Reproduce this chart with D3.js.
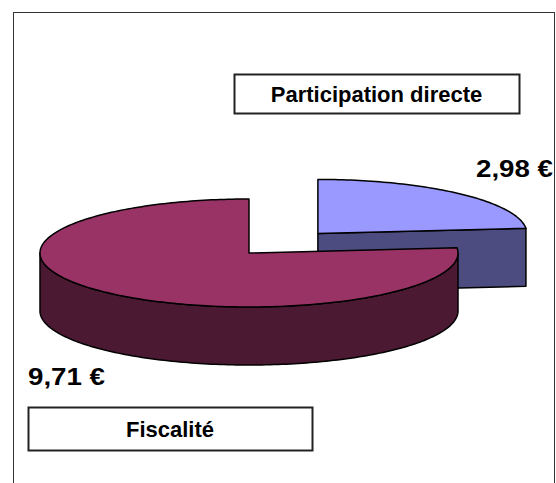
<!DOCTYPE html>
<html>
<head>
<meta charset="utf-8">
<script src="https://cdn.jsdelivr.net/npm/d3@7"></script>
<style>
  body { margin: 0; background: #fff; }
  svg { display: block; }
  text { font-family: "Liberation Sans", Arial, sans-serif; font-weight: bold; fill: #000; }
</style>
</head>
<body>
<div id="chart"></div>
<script>
const categories = ["Participation directe", "Fiscalité"];
const values = [2.98, 9.71];
const valueLabels = ["2,98 €", "9,71 €"];
const topColors = ["#9999FF", "#993366"];
const sideColors = ["#4C4C80", "#4C1933"];
const exploded = [0.49, 0];

const width = 556, height = 483;
const cx = 249, cy = 253, rx = 209, ry = 54, depth = 58;

const svg = d3.select("#chart").append("svg")
  .attr("width", width)
  .attr("height", height);

// outer frame (right/bottom run off the picture)
svg.append("rect")
  .attr("x", 13.5).attr("y", 12.5)
  .attr("width", 541).attr("height", 500)
  .attr("fill", "none").attr("stroke", "#333").attr("stroke-width", 1);

const pie = d3.pie().sort(null).startAngle(0).endAngle(2 * Math.PI)(values);

// projected point on the tilted ellipse
function pt(a, off, down) {
  return [off[0] + cx + rx * Math.sin(a), off[1] + cy - ry * Math.cos(a) + down];
}
function rim(a0, a1, off, down) {
  const n = Math.max(2, Math.ceil(Math.abs(a1 - a0) / 0.02));
  return d3.range(n + 1).map(i => pt(a0 + (a1 - a0) * i / n, off, down));
}
const line = d3.line();

const slices = pie.map((d, i) => {
  const mid = (d.startAngle + d.endAngle) / 2;
  const off = [exploded[i] * rx * Math.sin(mid), -exploded[i] * ry * Math.cos(mid)];
  return { d, i, mid, off };
});

// back slices first (those whose middle points away from the viewer)
slices.sort((a, b) => (-Math.cos(a.mid)) - (-Math.cos(b.mid)));

const g = svg.append("g")
  .attr("stroke", "#000")
  .attr("stroke-width", 1.5)
  .attr("stroke-linejoin", "round");

slices.forEach(s => {
  const { d, i, off } = s;
  const c = [cx + off[0], cy + off[1]];
  const sg = g.append("g").attr("class", "slice");

  // radial walls
  [[d.startAngle, d.startAngle - Math.PI / 2], [d.endAngle, d.endAngle + Math.PI / 2]].forEach(([a, n]) => {
    if (Math.cos(n) < -1e-6) {
      const p = pt(a, off, 0);
      sg.append("path")
        .attr("d", line([c, p, [p[0], p[1] + depth], [c[0], c[1] + depth]]) + "Z")
        .attr("fill", sideColors[i]);
    }
  });

  // outer (front) side
  [0, 2 * Math.PI].forEach(shift => {
    const s0 = Math.max(d.startAngle, Math.PI / 2 + shift);
    const s1 = Math.min(d.endAngle, 3 * Math.PI / 2 + shift);
    if (s1 > s0) {
      const topEdge = rim(s0, s1, off, 0);
      const botEdge = rim(s1, s0, off, depth);
      sg.append("path")
        .attr("d", line(topEdge.concat(botEdge)) + "Z")
        .attr("fill", sideColors[i]);
    }
  });

  // top face
  sg.append("path")
    .attr("d", line([c].concat(rim(d.startAngle, d.endAngle, off, 0))) + "Z")
    .attr("fill", topColors[i]);
});

// value labels
const valuePos = [
  { x: 553, y: 177, anchor: "end" },
  { x: 28, y: 385, anchor: "start" }
];
valueLabels.forEach((t, i) => {
  svg.append("text")
    .attr("x", valuePos[i].x).attr("y", valuePos[i].y)
    .attr("font-size", 24)
    .attr("text-anchor", valuePos[i].anchor)
    .attr("textLength", 77)
    .attr("lengthAdjust", "spacingAndGlyphs")
    .text(t);
});

// category boxes
const boxes = [
  { x: 234, y: 74, w: 285, h: 39 },
  { x: 28, y: 407, w: 284, h: 43 }
];
categories.forEach((t, i) => {
  const b = boxes[i];
  svg.append("rect")
    .attr("x", b.x + 0.5).attr("y", b.y + 0.5)
    .attr("width", b.w).attr("height", b.h)
    .attr("fill", "#fff").attr("stroke", "#222").attr("stroke-width", 2);
  svg.append("text")
    .attr("x", b.x + b.w / 2).attr("y", b.y + b.h / 2 + 8)
    .attr("text-anchor", "middle")
    .attr("font-size", 22)
    .text(t);
});
</script>
</body>
</html>
